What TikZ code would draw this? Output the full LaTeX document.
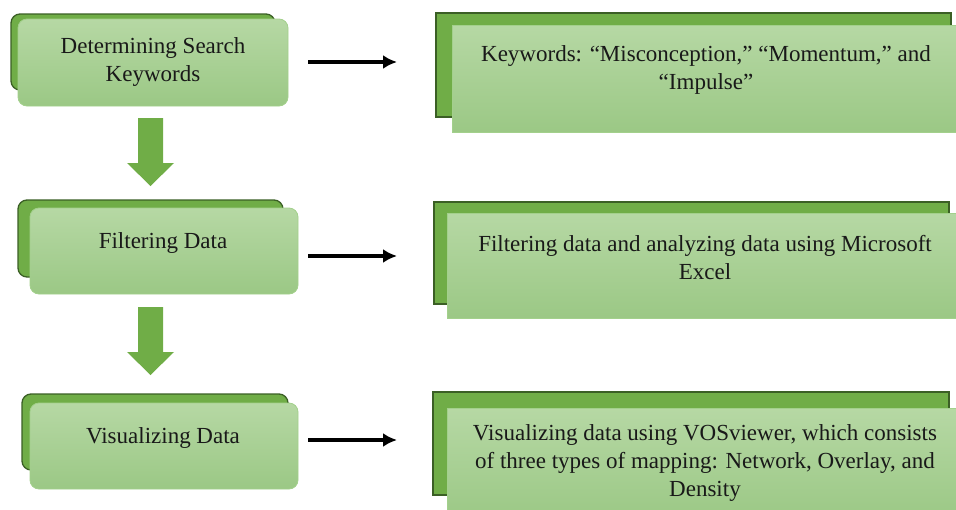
\documentclass[tikz,border=0pt]{standalone}
\usepackage{fontspec}
\setmainfont{Liberation Serif}
\usetikzlibrary{arrows.meta}

\definecolor{backgreen}{HTML}{70AD47}
\definecolor{backline}{HTML}{3B5F25}
\definecolor{fronttop}{HTML}{B6D8A4}
\definecolor{frontbot}{HTML}{9BC885}
\definecolor{frontline}{HTML}{A3D08C}

\tikzset{
  backbox/.style={draw=backline, line width=1.3pt, fill=backgreen, inner sep=0pt},
  frontbox/.style={draw=frontline, line width=0.8pt, top color=fronttop, bottom color=frontbot, inner sep=0pt},
  steptext/.style={font=\fontsize{23}{28}\selectfont, align=center, inner sep=0pt, text=black!90},
  flowarrow/.style={line width=3.2pt, -{Latex[length=14pt,width=14pt]}},
  downarrow/.style={fill=backgreen}
}

\begin{document}
\begin{tikzpicture}[x=1pt,y=1pt,yscale=-1]
\useasboundingbox (0,0) rectangle (956,509);
\clip (0,0) rectangle (956,509);

% left column: steps
\node[backbox, rounded corners=9, minimum width=264, minimum height=76] (kwb) at (143,52) {};
\node[frontbox, rounded corners=9, minimum width=270, minimum height=87] (kw) at (153,62.5) {};
\node[steptext] (kwt) at (153,62) {Determining Search\\Keywords};

\node[backbox, rounded corners=9, minimum width=265, minimum height=77] (filtb) at (150.5,238.5) {};
\node[frontbox, rounded corners=9, minimum width=268, minimum height=86] (filt) at (164,251) {};
\node[steptext] (filtt) at (163,243) {Filtering Data};

\node[backbox, rounded corners=9, minimum width=266, minimum height=76] (visb) at (155,432) {};
\node[frontbox, rounded corners=9, minimum width=268, minimum height=86] (vis) at (164,446) {};
\node[steptext] (vist) at (163,438) {Visualizing Data};

% right column: details
\node[backbox, minimum width=515, minimum height=104] (kwinfob) at (693.5,65) {};
\node[frontbox, minimum width=518, minimum height=107] (kwinfo) at (711,78.5) {};
\node[steptext] (kwinfot) at (706,70) {Keywords: ``Misconception,'' ``Momentum,'' and\\``Impulse''};

\node[backbox, minimum width=515, minimum height=102] (filtinfob) at (691.5,253) {};
\node[frontbox, minimum width=523, minimum height=105] (filtinfo) at (708.5,265.5) {};
\node[steptext] (filtinfot) at (705,257.5) {Filtering data and analyzing data using Microsoft\\Excel};

\node[backbox, minimum width=516, minimum height=103] (visinfob) at (691,443.5) {};
\node[frontbox, minimum width=523, minimum height=112] (visinfo) at (708.5,464) {};
\node[steptext] (visinfot) at (705,463) {Visualizing data using VOSviewer, which consists\\of three types of mapping: Network, Overlay, and\\Density};

% down arrows between steps
\foreach \y in {0,189}
  \fill[downarrow] (138,118+\y) -- (163,118+\y) -- (163,163+\y) -- (174,163+\y)
    -- (150.5,186+\y) -- (127,163+\y) -- (138,163+\y) -- cycle;

% arrows to details
\coordinate (kwout) at (308,62);
\coordinate (kwin) at (397,62);
\coordinate (filtout) at (308,256);
\coordinate (filtin) at (397,256);
\coordinate (visout) at (308,440);
\coordinate (visin) at (397,440);
\draw[flowarrow] (kwout) -- (kwin);
\draw[flowarrow] (filtout) -- (filtin);
\draw[flowarrow] (visout) -- (visin);

\end{tikzpicture}
\end{document}
